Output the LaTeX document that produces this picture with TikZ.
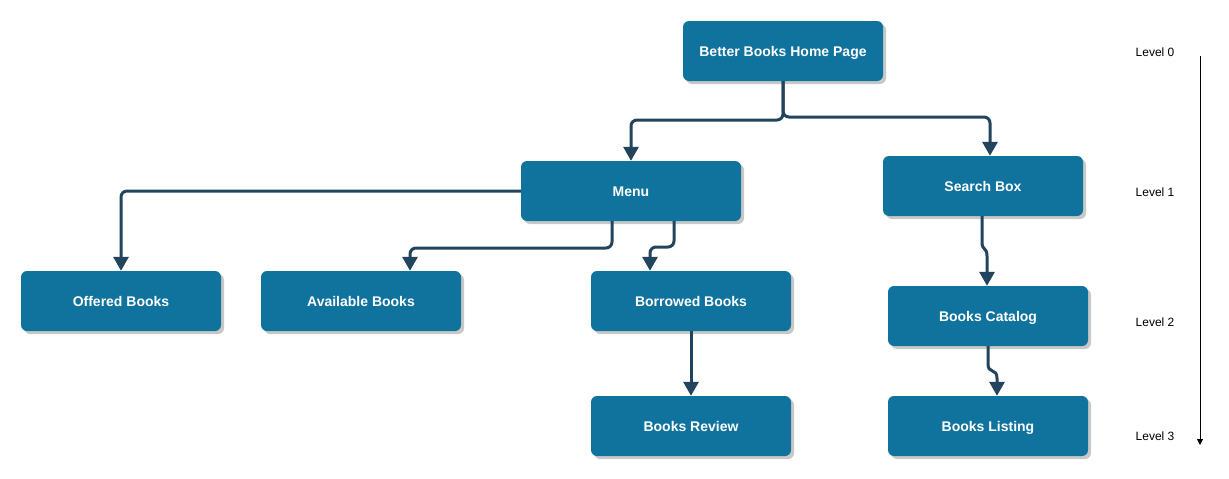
\documentclass[tikz,border=0pt]{standalone}
\usepackage{fontspec}
\setmainfont{Liberation Sans}
\usetikzlibrary{arrows.meta,shadows}
\definecolor{boxfill}{HTML}{10739E}
\definecolor{conncol}{HTML}{23445D}
\definecolor{shadowcol}{HTML}{C8C8C8}
\tikzset{
  boxnode/.style={rectangle, rounded corners=6pt, fill=boxfill, draw=none,
    minimum width=200pt, minimum height=60pt, inner sep=0pt,
    text height=10pt, text depth=0pt,
    text=white, font=\fontsize{14}{16}\selectfont\bfseries,
    drop shadow={shadow xshift=3pt, shadow yshift=-3pt, fill=shadowcol, opacity=1}},
  conn/.style={draw=conncol, line width=3pt, rounded corners=6pt,
    -{Triangle[length=14pt,width=15pt]}},
  lvl/.style={font=\fontsize{12}{14}\selectfont, text=black, inner sep=0pt},
}
\begin{document}
\begin{tikzpicture}[x=1pt,y=-1pt]
\useasboundingbox (0,0) rectangle (1229,479);
\fill[white] (0,0) rectangle (1229,479);
% nodes
\node[boxnode] (home) at (783,51) {Better Books Home Page};
\node[boxnode, minimum width=220pt] (menu) at (631,191) {Menu};
\node[boxnode] (search) at (983,186) {Search Box};
\node[boxnode] (offered) at (121,301) {Offered Books};
\node[boxnode] (avail) at (361,301) {Available Books};
\node[boxnode] (borrow) at (691,301) {Borrowed Books};
\node[boxnode] (catalog) at (988,316) {Books Catalog};
\node[boxnode] (review) at (691,426) {Books Review};
\node[boxnode] (listing) at (988,426) {Books Listing};
% connectors
\draw[conn] (home.south) -- (783,120) -- (631,120) -- (menu.north);
\draw[conn] (home.south) -- (783,117) -- (990,117) -- ([xshift=7pt]search.north);
\draw[conn] (menu.west) -- (121,191) -- (offered.north);
\draw[conn] ([xshift=-19pt]menu.south) -- (612,248) -- (410,248) -- ([xshift=49pt]avail.north);
\draw[conn] ([xshift=43pt]menu.south) -- (674,247) -- (650,247) -- ([xshift=-41pt]borrow.north);
\draw[conn, rounded corners=0pt] ([xshift=-1pt]search.south) -- (982,242)
  .. controls (982,251) and (987,247) .. (987,256) -- ([xshift=-1pt]catalog.north);
\draw[conn, rounded corners=0pt] (catalog.south) -- (988,364)
  .. controls (988,374) and (997,368) .. (997,378) -- ([xshift=9pt]listing.north);
\draw[conn, rounded corners=0pt] (borrow.south) -- (review.north);
% level labels
\node[lvl] (l0) at (1155,52) {Level 0};
\node[lvl] (l1) at (1155,192) {Level 1};
\node[lvl] (l2) at (1155,322) {Level 2};
\node[lvl] (l3) at (1155,436) {Level 3};
\coordinate (axtop) at (1200,56);
\coordinate (axbot) at (1200,445);
\draw[black, line width=1pt, -{Triangle[length=6pt,width=6pt]}] (axtop) -- (axbot);
\end{tikzpicture}
\end{document}
